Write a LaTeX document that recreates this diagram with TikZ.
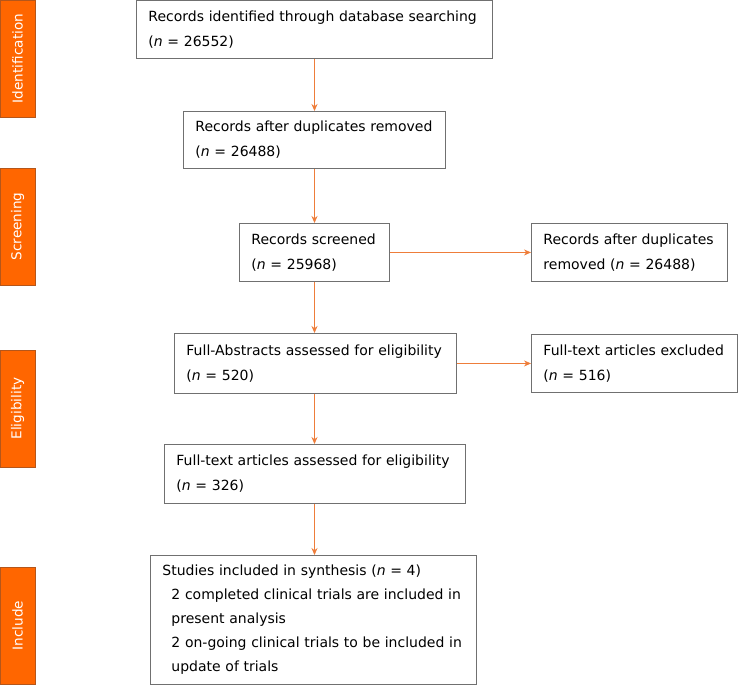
\documentclass[tikz,border=0pt]{standalone}
\usepackage{fontspec}
\setmainfont{DejaVu Sans}
\usetikzlibrary{arrows.meta}
\definecolor{barfill}{HTML}{FF6600}
\definecolor{barline}{HTML}{B5561A}
\definecolor{arrowc}{HTML}{EE7D3A}
\definecolor{boxline}{HTML}{707070}
\begin{document}
\begin{tikzpicture}[x=1pt,y=-1pt,
  box/.style={draw=boxline, line width=0.9pt, anchor=north west, inner xsep=12pt, inner ysep=0pt,
    align=left, font=\fontsize{14}{25}\selectfont},
  bar/.style={draw=barline, fill=barfill, line width=0.9pt, rotate=90, minimum width=117pt,
    minimum height=35pt, inner sep=0pt, text=white, font=\fontsize{13.6}{16}\selectfont},
  arr/.style={draw=arrowc, line width=0.8pt, -{Stealth[length=7pt,width=6pt]}}]
\useasboundingbox (0,0) rectangle (738,685);
% phase bars
\node[bar] (idb) at (17.5,58.5) {Identification};
\node[bar] (scb) at (17.5,226.5) {Screening};
\node[bar] (elb) at (17.5,408.5) {Eligibility};
\node[bar] (inb) at (17.5,625.5) {Include};
% boxes
\node[box, text width=332pt, minimum height=58pt] (b1) at (136,0.5)
  {\mbox{Records identified through database searching}\\(\textit{n} = 26552)};
\node[box, text width=238pt, minimum height=57pt] (b2) at (183,111)
  {\mbox{Records after duplicates removed}\\(\textit{n} = 26488)};
\node[box, text width=126pt, minimum height=58pt] (b3) at (239,223)
  {\mbox{Records screened}\\(\textit{n} = 25968)};
\node[box, text width=172pt, minimum height=58pt] (b4) at (531,223)
  {\mbox{Records after duplicates}\\\mbox{removed (\textit{n} = 26488)}};
\node[box, text width=258pt, minimum height=60pt] (b5) at (174,333)
  {\mbox{Full-Abstracts assessed for eligibility}\\(\textit{n} = 520)};
\node[box, text width=182pt, minimum height=58pt] (b6) at (531,334)
  {\mbox{Full-text articles excluded}\\(\textit{n} = 516)};
\node[box, text width=277pt, minimum height=59pt] (b7) at (164,444)
  {\mbox{Full-text articles assessed for eligibility}\\(\textit{n} = 326)};
\node[box, text width=302pt, minimum height=129pt, font=\fontsize{14}{24}\selectfont] (b8) at (150,555)
  {\mbox{Studies included in synthesis (\textit{n} = 4)}\\
   \mbox{\hspace*{9pt}2 completed clinical trials are included in}\\
   \mbox{\hspace*{9pt}present analysis}\\
   \mbox{\hspace*{9pt}2 on-going clinical trials to be included in}\\
   \mbox{\hspace*{9pt}update of trials}};
% connectors
\coordinate (ax) at (314.5,0);
\draw[arr] (b1.south -| ax) -- (b2.north -| ax);
\draw[arr] (b2.south -| ax) -- (b3.north -| ax);
\draw[arr] (b3.south -| ax) -- (b5.north -| ax);
\draw[arr] (b5.south -| ax) -- (b7.north -| ax);
\draw[arr] (b7.south -| ax) -- (b8.north -| ax);
\draw[arr] (b3.east) -- (b4.west);
\draw[arr] (b5.east) -- (b6.west);
\end{tikzpicture}
\end{document}
